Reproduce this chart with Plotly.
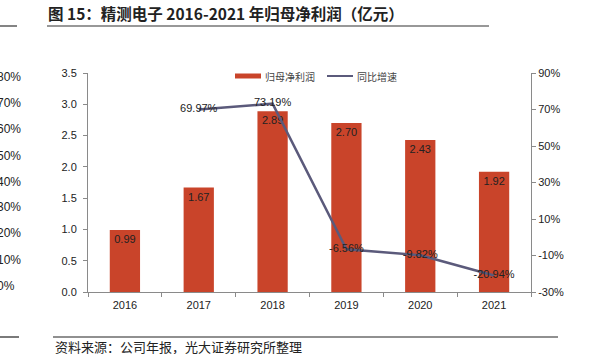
import plotly.graph_objects as go

years = ["2016", "2017", "2018", "2019", "2020", "2021"]
net_profit = [0.99, 1.67, 2.89, 2.70, 2.43, 1.92]
growth = [None, 69.97, 73.19, -6.56, -9.82, -20.94]
left_ticks = [0.0, 0.5, 1.0, 1.5, 2.0, 2.5, 3.0, 3.5]
right_ticks = [-30, -10, 10, 30, 50, 70, 90]
frag_labels = ["80%", "70%", "60%", "50%", "40%", "30%", "20%", "10%", "0%"]

W, H = 596, 354
L, R, T, B = 88, 531, 73, 292
pw, ph = R - L, B - T

def px(x):
    return (x - L) / pw

def py(y):
    return (B - y) / ph

BAR = "#C9442A"
LINE = "#5B5A7B"
NUMF = "Liberation Sans, Arial, sans-serif"
CJKF = "Noto Sans CJK SC, sans-serif"

fig = go.Figure()
fig.add_trace(go.Bar(
    x=years, y=net_profit, marker_color=BAR, marker_line_width=0,
    text=[f"{v:.2f}" for v in net_profit], textposition="inside",
    insidetextanchor="end", textangle=0,
    textfont=dict(family=NUMF, size=11, color="#222222"),
    name="归母净利润", yaxis="y", showlegend=False, cliponaxis=False,
))
fig.add_trace(go.Scatter(
    x=years, y=growth, mode="lines+text", line=dict(color=LINE, width=2.5),
    text=[("" if g is None else f"{g:.2f}%") for g in growth],
    textposition="middle center",
    textfont=dict(family=NUMF, size=11, color="#222222"),
    name="同比增速", yaxis="y2", showlegend=False, cliponaxis=False,
    connectgaps=False,
))

fig.update_layout(
    width=W, height=H,
    margin=dict(l=L, r=W - R, t=T, b=H - B, pad=0),
    paper_bgcolor="white", plot_bgcolor="white",
    bargap=0.59,
    showlegend=False,
    xaxis=dict(type="category", showline=True, linecolor="#8a8a8a", linewidth=1,
               ticks="outside", tickson="boundaries", ticklen=4, tickcolor="#8a8a8a",
               tickfont=dict(family=NUMF, size=11, color="#222222"),
               ticklabelstandoff=3,
               showgrid=False, zeroline=False, fixedrange=True),
    yaxis=dict(range=[0, 3.5], tickvals=left_ticks,
               ticktext=[f"{v:.1f}" for v in left_ticks],
               showline=True, linecolor="#8a8a8a", linewidth=1,
               ticks="outside", ticklen=4, tickcolor="#8a8a8a",
               tickfont=dict(family=NUMF, size=11, color="#222222"),
               showgrid=False, zeroline=False, ticklabelstandoff=4),
    yaxis2=dict(range=[-30, 90], tickvals=right_ticks,
                ticktext=[f"{v}%" for v in right_ticks],
                overlaying="y", side="right",
                showline=True, linecolor="#8a8a8a", linewidth=1,
                ticks="outside", ticklen=4, tickcolor="#8a8a8a",
                tickfont=dict(family=NUMF, size=11, color="#222222"),
                showgrid=False, zeroline=False),
)

shapes = []
shapes.append(dict(type="line", xref="paper", yref="paper",
                   x0=px(47), x1=px(489), y0=py(26), y1=py(26),
                   line=dict(color="#333333", width=1.2)))
shapes.append(dict(type="line", xref="paper", yref="paper",
                   x0=px(0), x1=px(17), y0=py(26), y1=py(26),
                   line=dict(color="#333333", width=1.2)))
shapes.append(dict(type="line", xref="paper", yref="paper",
                   x0=px(53), x1=px(558), y0=py(337), y1=py(337),
                   line=dict(color="#222222", width=1.2)))
shapes.append(dict(type="line", xref="paper", yref="paper",
                   x0=px(0), x1=px(19), y0=py(337), y1=py(337),
                   line=dict(color="#222222", width=1.2)))
shapes.append(dict(type="rect", xref="paper", yref="paper",
                   x0=px(235), x1=px(261), y0=py(73.5), y1=py(78.5),
                   fillcolor=BAR, line=dict(width=0)))
shapes.append(dict(type="line", xref="paper", yref="paper",
                   x0=px(327), x1=px(353), y0=py(76), y1=py(76),
                   line=dict(color=LINE, width=2)))

ann = []
ann.append(dict(text="<b>图 15：精测电子 2016-2021 年归母净利润（亿元）</b>",
                xref="paper", yref="paper", x=px(46), y=py(13),
                xanchor="left", yanchor="middle", showarrow=False,
                font=dict(family=CJKF, size=15.5, color="#222222")))
ann.append(dict(text="资料来源：公司年报，光大证券研究所整理",
                xref="paper", yref="paper", x=px(53), y=py(346),
                xanchor="left", yanchor="middle", showarrow=False,
                font=dict(family=CJKF, size=13, color="#222222")))
ann.append(dict(text="归母净利润", xref="paper", yref="paper", x=px(263), y=py(76),
                xanchor="left", yanchor="middle", showarrow=False,
                font=dict(family=CJKF, size=10, color="#444444")))
ann.append(dict(text="同比增速", xref="paper", yref="paper", x=px(355), y=py(76),
                xanchor="left", yanchor="middle", showarrow=False,
                font=dict(family=CJKF, size=10, color="#444444")))
frag_y = [77, 103, 129, 156, 182, 207, 233, 260, 286]
for lab, yy in zip(frag_labels, frag_y):
    ann.append(dict(text=lab, xref="paper", yref="paper", x=px(-5), y=py(yy),
                    xanchor="left", yanchor="middle", showarrow=False,
                    font=dict(family=NUMF, size=12, color="#222222")))

fig.update_layout(shapes=shapes, annotations=ann)
fig.write_html("out.html")
